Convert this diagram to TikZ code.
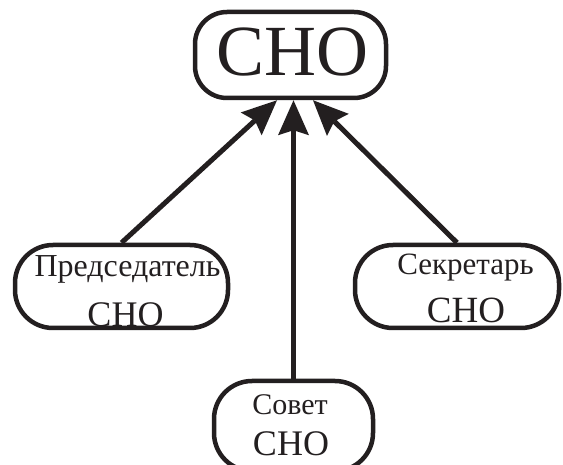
\documentclass[tikz,border=0pt]{standalone}
\usepackage{fontspec}
\setmainfont{Liberation Serif}
\usetikzlibrary{arrows.meta}
\definecolor{ink}{HTML}{231F20}
\begin{document}
\begin{tikzpicture}[x=1pt,y=-1pt,
  box/.style={draw=ink, line width=4.5pt, rounded corners=38pt, inner sep=0pt},
  txt/.style={inner sep=0pt, anchor=base, text=ink},
  link/.style={draw=ink, line width=5pt, -{Stealth[length=35pt,width=31pt,inset=5pt,line width=0pt]}}]
\path[use as bounding box] (0,0) rectangle (563,465);
\clip (0,0) rectangle (563,465);
\node[box, rounded corners=32pt, minimum width=191pt, minimum height=86pt] (sno) at (290.5,55) {};
\node[box, minimum width=213pt, minimum height=83pt] (pres) at (121.5,286.5) {};
\node[box, minimum width=204pt, minimum height=83pt] (sek) at (457,286.5) {};
\node[box, minimum width=159pt, minimum height=90pt] (sov) at (293.5,426) {};
\node[txt, font=\fontsize{72}{72}\selectfont] (snoT) at (292.5,76) {СНО};
\node[txt, font=\fontsize{32}{32}\selectfont] (presA) at (127.5,277) {Председатель};
\node[txt, font=\fontsize{36}{36}\selectfont] (presB) at (125.5,327) {СНО};
\node[txt, font=\fontsize{31}{31}\selectfont] (sekA) at (465.5,275) {Секретарь};
\node[txt, font=\fontsize{37}{37}\selectfont] (sekB) at (466,323) {СНО};
\node[txt, font=\fontsize{30}{30}\selectfont] (sovA) at (290,415) {Совет};
\node[txt, font=\fontsize{36}{36}\selectfont] (sovB) at (291,455) {СНО};
\draw[link] (pres.north) -- ([xshift=-13.5pt]sno.south);
\draw[link] (sov.north) -- (sov.north |- sno.south);
\draw[link] (sek.north) -- ([xshift=22.5pt]sno.south);
\end{tikzpicture}
\end{document}
